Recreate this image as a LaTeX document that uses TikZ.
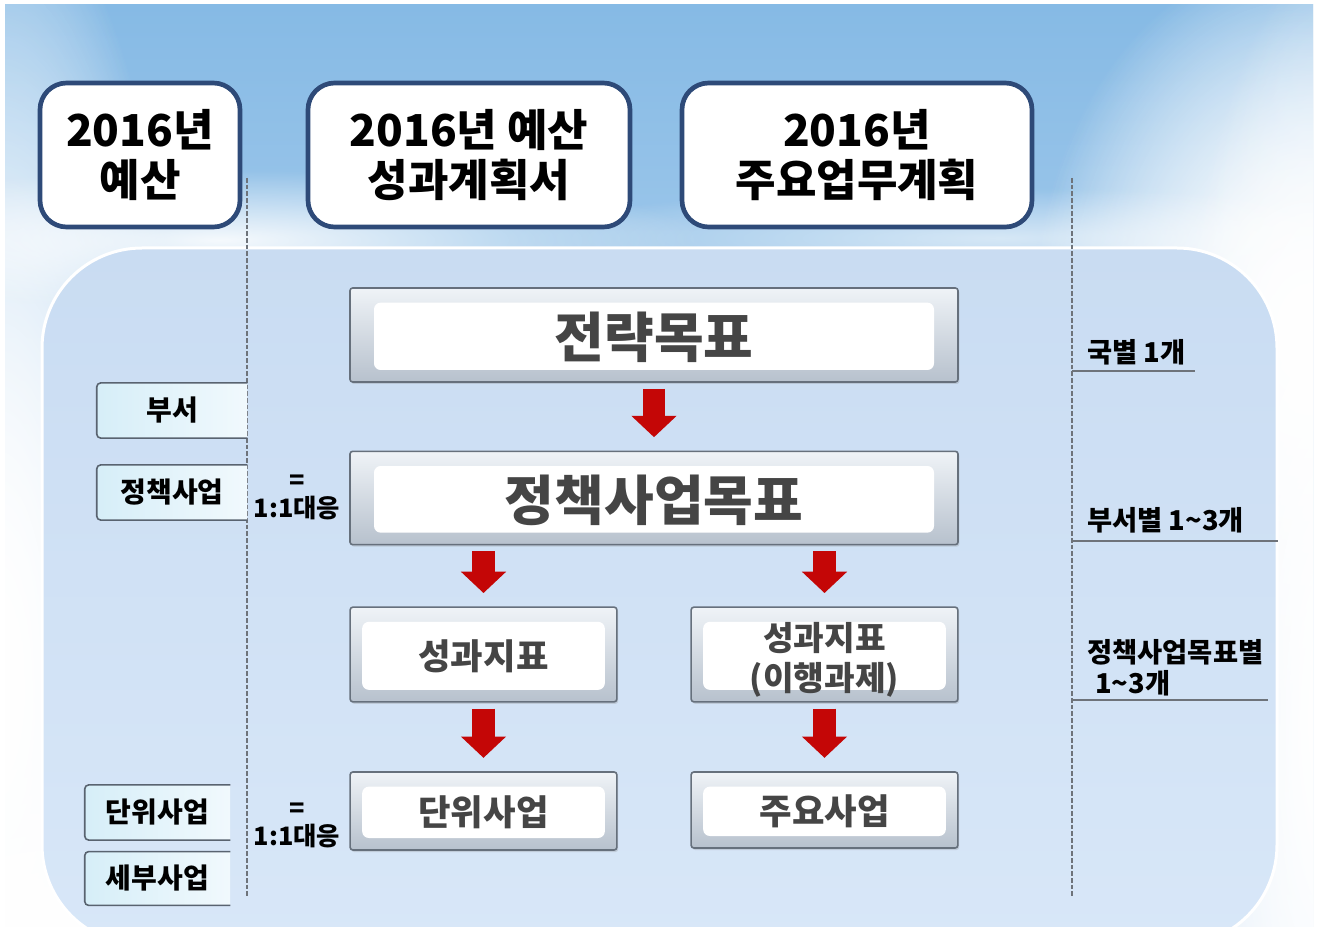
\documentclass[tikz,border=0pt]{standalone}
\usepackage{fontspec}
\newfontfamily\kr{Noto Sans CJK KR}
\usetikzlibrary{arrows.meta,shadows,fadings,calc}

\definecolor{skytop}{HTML}{86BAE5}
\definecolor{skylow}{HTML}{D2E5F6}
\definecolor{paneltop}{HTML}{C9DCF2}
\definecolor{panelbot}{HTML}{D8E7F8}
\definecolor{headline}{HTML}{2E4A78}
\definecolor{stageline}{HTML}{66707C}
\definecolor{stagetop}{HTML}{EFF3F7}
\definecolor{stagebot}{HTML}{B7C1CD}
\definecolor{stagetext}{HTML}{454545}
\definecolor{flowred}{HTML}{C40606}
\definecolor{sideleft}{HTML}{D6EEF8}
\definecolor{sideright}{HTML}{F1F9FD}
\definecolor{sideedge}{HTML}{596370}
\definecolor{guidegray}{HTML}{6E737A}

\tikzfading[name=cloudfade, inner color=transparent!0, outer color=transparent!100]

\tikzset{
  headbox/.style={
    rectangle,
    rounded corners=20pt,
    draw=headline,
    line width=3.5pt,
    fill=white,
    minimum height=108pt,
    align=center,
    font=\kr\bfseries\fontsize{33pt}{37.5pt}\selectfont,
  },
  stagebox/.style={
    rectangle,
    rounded corners=2pt,
    draw=stageline,
    line width=1.2pt,
    top color=stagetop,
    bottom color=stagebot,
    drop shadow={opacity=1/4, shadow xshift=1pt, shadow yshift=-1.5pt},
    path picture={
      \fill[white, rounded corners=5pt]
        ([shift={(#1,-11pt)}]path picture bounding box.north west) rectangle
        ([shift={(-#1,9pt)}]path picture bounding box.south east);
    },
    text=stagetext,
    text depth=0pt,
    align=center,
  },
  stagebox/.default=9pt,
  bigtext/.style={font=\kr\bfseries\fontsize{40.5pt}{44pt}\selectfont},
  smalltext/.style={font=\kr\bfseries\fontsize{26.5pt}{30pt}\selectfont},
  cloud/.style={white, path fading=cloudfade},
  sidebox/.style={
    rectangle,
    left color=sideleft,
    right color=sideright,
    minimum height=41pt,
    font=\kr\bfseries\fontsize{21pt}{24pt}\selectfont,
  },
  sideline/.style={
    draw=sideedge,
    line width=1.2pt,
    rounded corners=3pt,
  },
  flow/.style={
    draw=flowred,
    line width=17pt,
    -{Triangle[length=16pt, width=33pt]},
    shorten <=4.5pt,
    shorten >=10pt,
  },
  guide/.style={
    draw=guidegray,
    line width=0.8pt,
    dash pattern=on 3.5pt off 1.5pt,
  },
  match/.style={
    align=center,
    inner sep=0pt,
    font=\kr\bfseries\fontsize{19pt}{21pt}\selectfont,
  },
  tally/.style={
    anchor=west,
    align=left,
    inner sep=0pt,
    font=\kr\bfseries\fontsize{20.5pt}{23pt}\selectfont,
  },
  tallyline/.style={
    draw=guidegray,
    line width=1.5pt,
  },
}

\begin{document}
\begin{tikzpicture}[x=0.75pt, y=-0.75pt]

  \useasboundingbox (0,0) rectangle (1318,927);

  % sky and clouds
  \fill[white] (0,0) rectangle (1318,927);
  \begin{scope}
    \clip (5,5) rectangle (1313,927);
    \shade[top color=skytop, bottom color=skylow] (5,5) rectangle (1313,927);
    \foreach \k in {1,2} {
      \fill[cloud] (1310,330) ellipse (280 and 380);
      \fill[cloud] (1330,720) ellipse (180 and 760);
      \fill[cloud] (0,680) ellipse (200 and 800);
      \fill[cloud] (60,960) ellipse (320 and 220);
    }
    \fill[cloud, opacity=.9] (220,240) ellipse (480 and 70);
    \fill[cloud, opacity=.6] (1000,238) ellipse (500 and 50);
    \shade[top color=paneltop, bottom color=panelbot, draw=white, line width=2.25pt,
      rounded corners=75pt] (42,248) rectangle (1277,945);
  \end{scope}

  % column guides
  \draw[guide] (247,178) -- (247,897);
  \draw[guide] (1072,178) -- (1072,897);

  % headers
  \node[headbox, minimum width=150pt] (budget) at (140,155) {2016년\\예산};
  \node[headbox, minimum width=241.5pt] (perf) at (469,155) {2016년 예산\\성과계획서};
  \node[headbox, minimum width=262.5pt] (work) at (857,155) {2016년\\주요업무계획};

  % stages
  \node[stagebox=18pt, bigtext, minimum width=456pt, minimum height=70.5pt] (goal) at (654,335) {전략목표};
  \node[stagebox=18pt, bigtext, minimum width=456pt, minimum height=70pt] (pgoal) at (654,498) {정책사업목표};
  \node[stagebox, smalltext, minimum width=200pt, minimum height=71pt] (kpiL) at (483.5,654.5) {성과지표};
  \node[stagebox, minimum width=200pt, minimum height=71pt] (kpiR) at (824.5,654.5) {};
  \node[align=center, text=stagetext, inner sep=0pt,
    font=\kr\bfseries\fontsize{25pt}{30pt}\selectfont] (kpiRtext) at ([yshift=-4pt]kpiR.center) {성과지표\\(이행과제)};
  \node[stagebox, smalltext, minimum width=200pt, minimum height=58.5pt] (unitL) at (483.5,811) {단위사업};
  \node[stagebox, smalltext, minimum width=200pt, minimum height=57pt] (mainR) at (824.5,810) {주요사업};

  \foreach \a/\b in {goal/pgoal, pgoal/kpiL, pgoal/kpiR, kpiL/unitL, kpiR/mainR}
    \draw[flow] (\a.south -| \b) -- (\b.north);

  % budget side
  \node[sidebox, minimum width=112.5pt] (dept) at (172,410.5) {부서\hspace{14pt}};
  \node[sidebox, minimum width=112.5pt] (prog) at (172,492.5) {정책사업\hspace{14pt}};
  \node[sidebox, minimum width=108.75pt] (unit) at (157.5,812.5) {단위사업\hspace{14pt}};
  \node[sidebox, minimum width=108.75pt, minimum height=40pt] (item) at (157.5,878.5) {세부사업\hspace{14pt}};
  \foreach \n in {dept,prog,unit,item}
    \draw[sideline] (\n.north east) -- (\n.north west) -- (\n.south west) -- (\n.south east);

  \node[match] (eq1) at (297,497) {=\\1:1대응};
  \node[match] (eq2) at (297,825) {=\\1:1대응};

  % counts
  \node[tally] (cnt1) at (1087,352) {국별 1개};
  \node[tally] (cnt2) at (1087,520) {부서별 1\textasciitilde 3개};
  \node[tally] (cnt3) at (1087,668) {정책사업목표별\\\hspace{6pt}1\textasciitilde 3개};
  \draw[tallyline] (1072,371) -- (1195,371);
  \draw[tallyline] (1072,541) -- (1278,541);
  \draw[tallyline] (1072,700) -- (1268,700);

\end{tikzpicture}
\end{document}
